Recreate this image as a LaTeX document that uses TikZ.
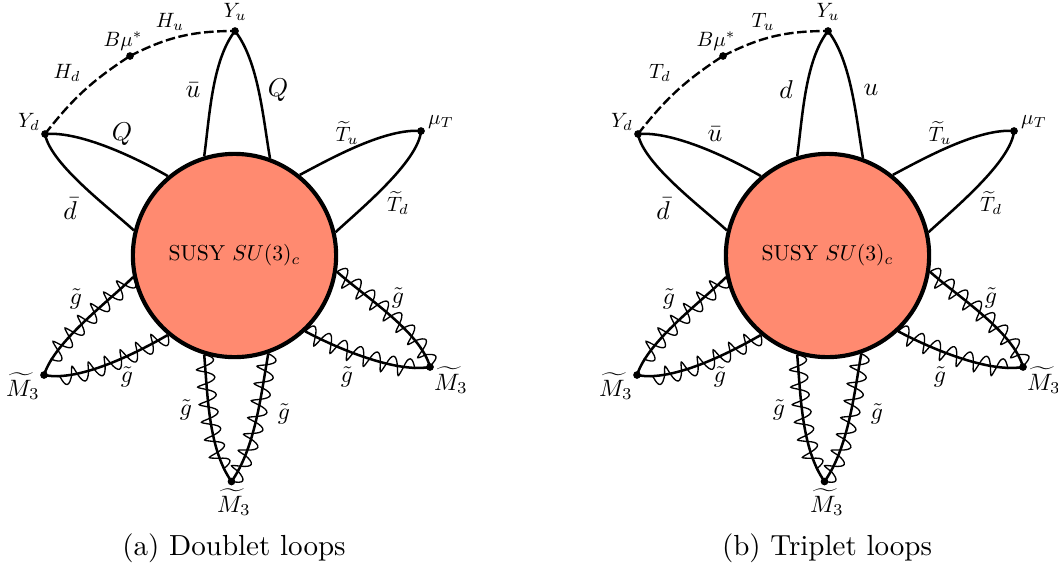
\documentclass[tikz,border=0pt]{standalone}
\usepackage{amsmath,amssymb}
\usetikzlibrary{decorations.pathmorphing,backgrounds}
\definecolor{blobred}{HTML}{FF8A70}
\tikzset{
	vertexdot/.style={circle,fill=black,inner sep=0pt,minimum size=2.6pt},
	blobnode/.style={circle,draw=black,line width=1.4pt,fill=blobred,minimum size=68.6pt,inner sep=0pt},
	blobtext/.style={scale=0.73,inner sep=0pt},
	fermion/.style={line width=0.85pt},
	higgs/.style={line width=0.8pt,dash pattern=on 3.2pt off 1.2pt},
	gluon/.style={line width=0.85pt,postaction={draw,line width=0.45pt,decorate,decoration={coil,amplitude=3pt,segment length=5.9pt,aspect=0.15}}},
	smalllab/.style={scale=0.7,inner sep=0pt},
	midlab/.style={scale=0.8,inner sep=0pt},
	biglab/.style={scale=0.87,inner sep=0pt}
}
\begin{document}
\begin{tikzpicture}[x=0.3375pt,y=0.3375pt]
	\useasboundingbox (0,0) rectangle (1058,569);
	
	\foreach \dx/\pname/\hu/\hd/\la/\lb/\lc/\capt in
	{
		0/a/{$H_u$}/{$H_d$}/{$\bar u$}/{$Q$}/{$Q$}/{(a) Doublet loops},
		593/b/{$T_u$}/{$T_d$}/{$d$}/{$u$}/{$\bar u$}/{(b) Triplet loops}
	}
	{
		\begin{scope}[shift={(\dx,0)}]
			\node[blobnode] (blob\pname) at (234.5,313.5) {};
			\node[blobtext] (susy\pname) at (blob\pname) {SUSY $SU(3)_c$};
			
			% vertices
			\node[vertexdot] (Yu\pname) at (235,538) {};
			\node[vertexdot] (Yd\pname) at (45,435) {};
			\node[vertexdot] (Bm\pname) at (130,513) {};
			\node[vertexdot] (mT\pname) at (421,438) {};
			\node[vertexdot] (Ml\pname) at (44,194) {};
			\node[vertexdot] (Mb\pname) at (231.5,87.5) {};
			\node[vertexdot] (Mr\pname) at (430,202) {};
			
			\begin{pgfonlayer}{background}
				\draw[higgs] (Yd\pname.center) to[out=52,in=213] (Bm\pname.center);
				\draw[higgs] (Bm\pname.center) to[out=27,in=180] (Yu\pname.center);
				
				\draw[fermion] (Yu\pname.center) to[out=232,in=82,looseness=0.75] (blob\pname.107);
				\draw[fermion] (Yu\pname.center) to[out=-52,in=100,looseness=0.75] (blob\pname.70);
				\draw[fermion] (Yd\pname.center) to[out=5,in=150,looseness=0.7] (blob\pname.130);
				\draw[fermion] (Yd\pname.center) to[out=-80,in=137,looseness=0.6] (blob\pname.166);
				\draw[fermion] (mT\pname.center) to[out=175,in=28,looseness=0.7] (blob\pname.51);
				\draw[fermion] (mT\pname.center) to[out=-95,in=43,looseness=0.6] (blob\pname.13);
				
				\draw[gluon] (blob\pname.192) to[out=225,in=72,looseness=0.7] (Ml\pname.center);
				\draw[gluon] (blob\pname.230) to[out=210,in=-12,looseness=0.7] (Ml\pname.center);
				\draw[gluon] (blob\pname.253) to[out=-85,in=125,looseness=0.8] (Mb\pname.center);
				\draw[gluon] (blob\pname.289) to[out=-100,in=55,looseness=0.8] (Mb\pname.center);
				\draw[gluon] (blob\pname.351) to[out=-42,in=105,looseness=0.7] (Mr\pname.center);
				\draw[gluon] (blob\pname.313) to[out=-28,in=190,looseness=0.7] (Mr\pname.center);
			\end{pgfonlayer}
			
			% labels
			\node[smalllab] (lYu\pname) at (235,557) {$Y_u$};
			\node[smalllab] (lYd\pname) at (29,447) {$Y_d$};
			\node[smalllab] (lBm\pname) at (123,528) {$B\mu^*$};
			\node[smalllab] (lhu\pname) at (170,547) {\hu};
			\node[smalllab] (lhd\pname) at (67,496) {\hd};
			\node[biglab] (lla\pname) at (193,479) {\la};
			\node[biglab] (llb\pname) at (278,479) {\lb};
			\node[biglab] (llc\pname) at (122,435) {\lc};
			\node[biglab] (ldb\pname) at (70,360) {$\bar d$};
			\node[smalllab] (lTu\pname) at (347,436) {$\widetilde T_u$};
			\node[smalllab] (lTd\pname) at (398,366) {$\widetilde T_d$};
			\node[smalllab] (lmT\pname) at (441,447) {$\mu_T$};
			
			\foreach \gx/\gy/\gn in {76/270/a,127/192/b,186/159/c,284/155/d,347/192/e,398/271/f}
			{
				\node[midlab] (lg\gn\pname) at (\gx,\gy) {$\tilde g$};
			}
			\node[midlab] (lMl\pname) at (23,183) {$\widetilde M_3$};
			\node[midlab] (lMb\pname) at (234,67) {$\widetilde M_3$};
			\node[midlab] (lMr\pname) at (451,189) {$\widetilde M_3$};
			
			\node[scale=0.98] (capt\pname) at (234,21) {\capt};
		\end{scope}
	}
	
\end{tikzpicture}
\end{document}
